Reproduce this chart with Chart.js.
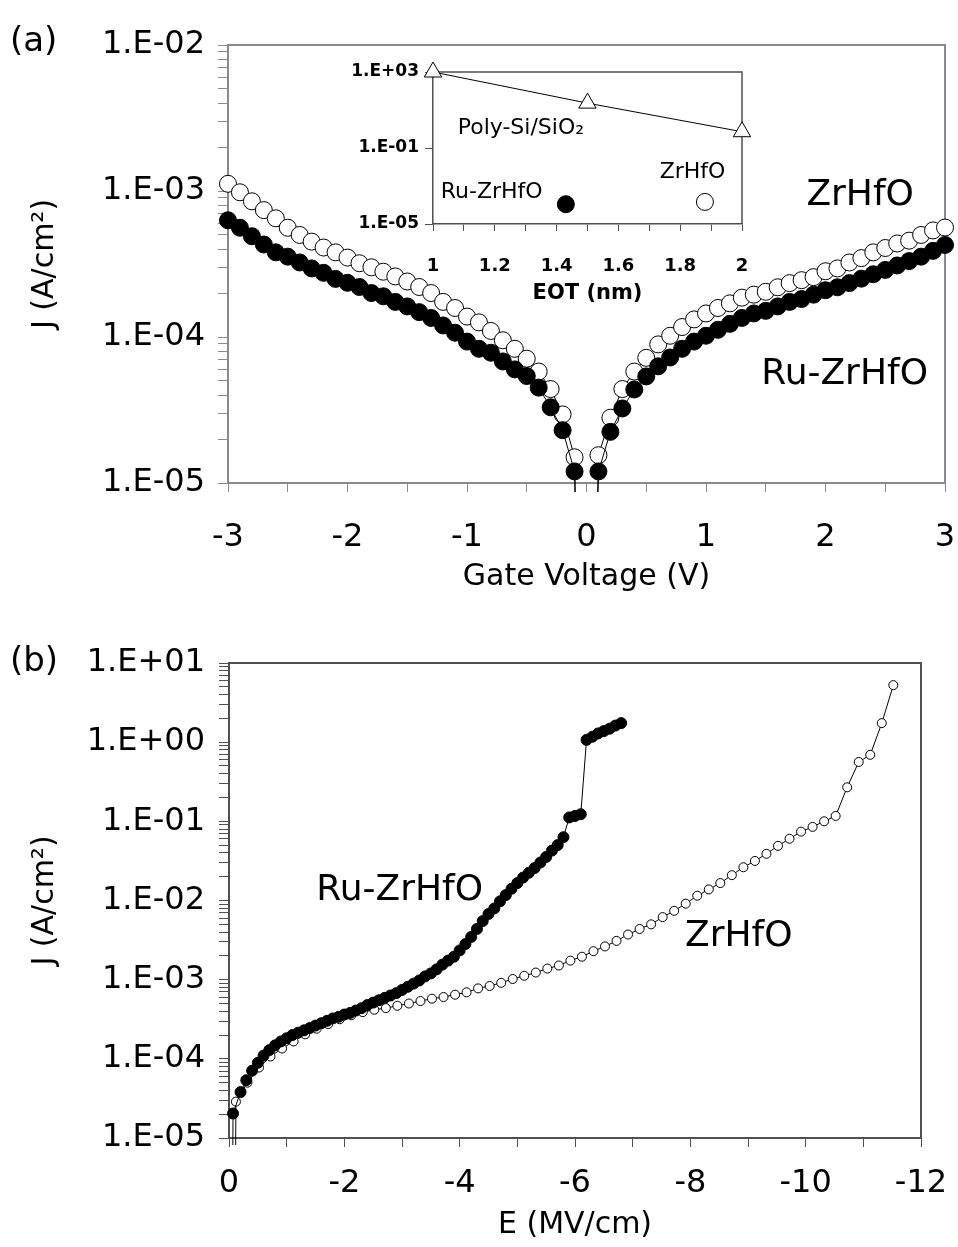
<!DOCTYPE html>
<html>
<head>
<meta charset="utf-8">
<script src="https://cdn.jsdelivr.net/npm/chart.js@4.4.1/dist/chart.umd.min.js"></script>
<style>
  body { margin: 0; background: #fff; }
  #wrap { position: relative; width: 958px; height: 1247px; background: #fff; }
  canvas { position: absolute; }
  .tag { position: absolute; font-family: 'DejaVu Sans', sans-serif; font-size: 34px; line-height: 1; color: #000; }
</style>
</head>
<body>
<div id="wrap">
  <canvas id="panelA" width="958" height="620" style="left:0;top:0"></canvas>
  <canvas id="inset" width="430" height="270" style="left:330px;top:50px"></canvas>
  <canvas id="panelB" width="958" height="627" style="left:0;top:620px"></canvas>
  <div class="tag" style="left:10px;top:22px">(a)</div>
  <div class="tag" style="left:10px;top:642px">(b)</div>
</div>
<script>
// (a) J-V, gate voltage sweep
const gateVoltage = [-3.0, -2.9, -2.8, -2.7, -2.6, -2.5, -2.4, -2.3, -2.2, -2.1,
  -2.0, -1.9, -1.8, -1.7, -1.6, -1.5, -1.4, -1.3, -1.2, -1.1,
  -1.0, -0.9, -0.8, -0.7, -0.6, -0.5, -0.4, -0.3, -0.2, -0.1,
  0,
  0.1, 0.2, 0.3, 0.4, 0.5, 0.6, 0.7, 0.8, 0.9, 1.0,
  1.1, 1.2, 1.3, 1.4, 1.5, 1.6, 1.7, 1.8, 1.9, 2.0,
  2.1, 2.2, 2.3, 2.4, 2.5, 2.6, 2.7, 2.8, 2.9, 3.0];
const jZrHfO = [1.12e-3, 9.8e-4, 8.5e-4, 7.4e-4, 6.5e-4, 5.6e-4, 5.0e-4, 4.5e-4, 4.1e-4, 3.8e-4,
  3.5e-4, 3.2e-4, 3.0e-4, 2.8e-4, 2.6e-4, 2.4e-4, 2.2e-4, 2.0e-4, 1.74e-4, 1.58e-4,
  1.38e-4, 1.26e-4, 1.10e-4, 9.5e-5, 8.3e-5, 7.1e-5, 5.8e-5, 4.4e-5, 2.95e-5, 1.5e-5,
  1e-9,
  1.55e-5, 2.8e-5, 4.4e-5, 5.8e-5, 7.2e-5, 8.9e-5, 1.02e-4, 1.17e-4, 1.32e-4, 1.45e-4,
  1.58e-4, 1.70e-4, 1.86e-4, 1.95e-4, 2.04e-4, 2.19e-4, 2.34e-4, 2.45e-4, 2.57e-4, 2.82e-4,
  2.95e-4, 3.24e-4, 3.47e-4, 3.80e-4, 4.07e-4, 4.37e-4, 4.57e-4, 5.0e-4, 5.37e-4, 5.62e-4];
const jRuZrHfO = [6.3e-4, 5.6e-4, 4.9e-4, 4.3e-4, 3.8e-4, 3.55e-4, 3.24e-4, 2.95e-4, 2.75e-4, 2.5e-4,
  2.35e-4, 2.2e-4, 2.0e-4, 1.9e-4, 1.74e-4, 1.62e-4, 1.48e-4, 1.35e-4, 1.2e-4, 1.07e-4,
  9.3e-5, 8.3e-5, 7.8e-5, 6.8e-5, 6.0e-5, 5.4e-5, 4.5e-5, 3.3e-5, 2.3e-5, 1.2e-5,
  1e-9,
  1.2e-5, 2.24e-5, 3.24e-5, 4.37e-5, 5.37e-5, 6.3e-5, 7.24e-5, 8.3e-5, 9.3e-5, 1.02e-4,
  1.12e-4, 1.23e-4, 1.35e-4, 1.45e-4, 1.51e-4, 1.62e-4, 1.74e-4, 1.82e-4, 1.95e-4, 2.09e-4,
  2.19e-4, 2.34e-4, 2.51e-4, 2.69e-4, 2.88e-4, 3.09e-4, 3.31e-4, 3.55e-4, 3.89e-4, 4.27e-4];

// inset: J vs EOT
const eotPoly = [1, 1.5, 2];
const jPoly = [1e3, 23, 0.72];
const eotRuInset = [1.43];
const jRuInset = [1.1e-4];
const eotZrInset = [1.88];
const jZrInset = [1.45e-4];

// (b) J-E
const fieldRu = [-0.05, -0.07, -0.2, -0.3, -0.4, -0.5, -0.6, -0.7, -0.8, -0.9,
  -1.0, -1.1, -1.2, -1.3, -1.4, -1.5, -1.6, -1.7, -1.8, -1.9,
  -2.0, -2.1, -2.2, -2.3, -2.4, -2.5, -2.6, -2.7, -2.8, -2.9,
  -3.0, -3.1, -3.2, -3.3, -3.4, -3.5, -3.6, -3.7, -3.8, -3.9,
  -4.0, -4.1, -4.2, -4.3, -4.4, -4.5, -4.6, -4.7, -4.8, -4.9,
  -5.0, -5.1, -5.2, -5.3, -5.4, -5.5, -5.6, -5.7, -5.8, -5.9,
  -6.0, -6.1, -6.2, -6.3, -6.4, -6.5, -6.6, -6.7, -6.8];
const jRuField = [1e-7, 2.04e-5, 3.80e-5, 5.37e-5, 7.08e-5, 8.91e-5, 1.10e-4, 1.29e-4, 1.48e-4, 1.66e-4,
  1.82e-4, 2.00e-4, 2.14e-4, 2.29e-4, 2.45e-4, 2.63e-4, 2.82e-4, 3.02e-4, 3.24e-4, 3.39e-4,
  3.63e-4, 3.80e-4, 4.07e-4, 4.37e-4, 4.79e-4, 5.13e-4, 5.50e-4, 5.89e-4, 6.31e-4, 6.76e-4,
  7.41e-4, 8.13e-4, 8.91e-4, 9.77e-4, 1.10e-3, 1.20e-3, 1.35e-3, 1.55e-3, 1.74e-3, 1.95e-3,
  2.34e-3, 2.82e-3, 3.47e-3, 4.37e-3, 5.50e-3, 6.76e-3, 7.94e-3, 9.77e-3, 1.17e-2, 1.41e-2,
  1.66e-2, 1.95e-2, 2.24e-2, 2.57e-2, 3.02e-2, 3.55e-2, 4.27e-2, 5.01e-2, 6.31e-2, 0.112,
  0.117, 0.123, 1.07, 1.17, 1.29, 1.38, 1.48, 1.62, 1.74];
const fieldZr = [-0.1, -0.12, -0.32, -0.52, -0.72, -0.92, -1.12, -1.32, -1.52, -1.72,
  -1.92, -2.12, -2.32, -2.52, -2.72, -2.92, -3.12, -3.32, -3.52, -3.72,
  -3.92, -4.12, -4.32, -4.52, -4.72, -4.92, -5.12, -5.32, -5.52, -5.72,
  -5.92, -6.12, -6.32, -6.52, -6.72, -6.92, -7.12, -7.32, -7.52, -7.72,
  -7.92, -8.12, -8.32, -8.52, -8.72, -8.92, -9.12, -9.32, -9.52, -9.72,
  -9.92, -10.12, -10.32, -10.52, -10.72, -10.92, -11.12, -11.32, -11.52];
const jZrField = [1e-7, 2.88e-5, 5.0e-5, 7.76e-5, 1.07e-4, 1.35e-4, 1.66e-4, 2.04e-4, 2.40e-4, 2.75e-4,
  3.16e-4, 3.55e-4, 3.89e-4, 4.17e-4, 4.37e-4, 4.68e-4, 5.0e-4, 5.37e-4, 5.75e-4, 6.03e-4,
  6.46e-4, 6.92e-4, 7.76e-4, 8.32e-4, 9.12e-4, 1.02e-3, 1.12e-3, 1.23e-3, 1.38e-3, 1.51e-3,
  1.74e-3, 1.95e-3, 2.29e-3, 2.63e-3, 3.09e-3, 3.72e-3, 4.37e-3, 5.0e-3, 6.17e-3, 7.41e-3,
  9.12e-3, 1.15e-2, 1.38e-2, 1.66e-2, 2.09e-2, 2.63e-2, 3.16e-2, 3.89e-2, 4.90e-2, 6.03e-2,
  7.41e-2, 8.51e-2, 0.100, 0.117, 0.269, 0.562, 0.692, 1.74, 5.25];

Chart.defaults.font.family = "'DejaVu Sans', sans-serif";
Chart.defaults.color = "#000";
Chart.defaults.animation = false;
Chart.defaults.plugins.legend.display = false;
Chart.defaults.plugins.tooltip.enabled = false;

const pts = (xs, ys) => xs.map((x, i) => ({ x, y: ys[i] }));

// 1.E-03 style labels, decades only
const logLabel = (v) => {
  const e = Math.round(Math.log10(v));
  if (Math.abs(v / Math.pow(10, e) - 1) > 1e-6) return "";
  return "1.E" + (e < 0 ? "-" : "+") + String(Math.abs(e)).padStart(2, "0");
};

// 1..9 x 10^e tick marks so the minor ticks show
const decadeTicks = (lo, hi) => {
  const t = [];
  for (let e = lo; e < hi; e++) {
    for (let m = 1; m < 10; m++) t.push({ value: m * Math.pow(10, e) });
  }
  t.push({ value: Math.pow(10, hi) });
  return t;
};

// no extra room for edge labels, chart area is set by layout padding
const noEdgePad = (s) => {
  s.paddingLeft = 0;
  s.paddingRight = 0;
  s.paddingTop = 0;
  s.paddingBottom = 0;
};

// top + right edge of the box
const frame = {
  id: "frame",
  beforeDatasetsDraw(chart, args, opts) {
    const { ctx, chartArea: a } = chart;
    ctx.save();
    ctx.strokeStyle = opts.color;
    ctx.lineWidth = opts.width;
    ctx.beginPath();
    ctx.moveTo(a.left, a.top);
    ctx.lineTo(a.right, a.top);
    ctx.lineTo(a.right, a.bottom);
    ctx.stroke();
    ctx.restore();
  },
};

// text placed at data coordinates
const notes = {
  id: "notes",
  afterDatasetsDraw(chart, args, opts) {
    const { ctx, scales } = chart;
    ctx.save();
    ctx.fillStyle = "#000";
    ctx.textBaseline = "middle";
    (opts.items || []).forEach((it) => {
      ctx.font = it.font;
      ctx.textAlign = it.align || "center";
      ctx.fillText(it.text, scales.x.getPixelForValue(it.x), scales.y.getPixelForValue(it.y));
    });
    ctx.restore();
  },
};

const series = (data, fill, r, clip) => ({
  data,
  clip,
  showLine: true,
  borderColor: "#000",
  borderWidth: 1,
  pointRadius: r,
  pointHoverRadius: r,
  pointBackgroundColor: fill,
  pointBorderColor: "#000",
  pointBorderWidth: 1,
});

const greyA = "#8a8a8a";
const greyB = "#505050";
const clipA = { left: 12, top: 12, right: 12, bottom: 9 };
const clipB = { left: 8, top: 8, right: 8, bottom: 7 };

new Chart(document.getElementById("panelA"), {
  type: "scatter",
  data: {
    datasets: [
      series(pts(gateVoltage, jRuZrHfO), "#000", 8.5, clipA),
      series(pts(gateVoltage, jZrHfO), "#fff", 8.5, clipA),
    ],
  },
  plugins: [frame, notes],
  options: {
    responsive: false,
    layout: { padding: { top: 45, right: 13, left: 0, bottom: 0 } },
    plugins: {
      frame: { color: greyA, width: 2 },
      notes: {
        items: [
          { text: "ZrHfO", x: 2.29, y: 9.3e-4, font: "36px 'DejaVu Sans'" },
          { text: "Ru-ZrHfO", x: 2.16, y: 5.5e-5, font: "36px 'DejaVu Sans'" },
        ],
      },
    },
    scales: {
      x: {
        type: "linear",
        min: -3,
        max: 3,
        ticks: {
          stepSize: 0.5,
          autoSkip: false,
          maxRotation: 0,
          padding: 26,
          font: { size: 32 },
          callback: (v) => (Math.abs(v - Math.round(v)) < 1e-9 ? String(Math.round(v)) : ""),
        },
        grid: { drawOnChartArea: false, tickLength: 9, color: greyA, tickColor: greyA },
        border: { color: greyA, width: 2 },
        title: { display: true, text: "Gate Voltage (V)", font: { size: 30 }, padding: { top: 0, bottom: 25 } },
        afterFit: (s) => { s.height = 137; noEdgePad(s); },
      },
      y: {
        type: "logarithmic",
        min: 1e-5,
        max: 1e-2,
        afterBuildTicks: (s) => { s.ticks = decadeTicks(-5, -2); },
        ticks: { autoSkip: false, padding: 13, font: { size: 32 }, callback: logLabel },
        grid: { drawOnChartArea: false, tickLength: 10, color: greyA, tickColor: greyA },
        border: { color: greyA, width: 2 },
        title: { display: true, text: "J (A/cm²)", font: { size: 30 }, padding: { top: 27, bottom: 0 } },
        afterFit: (s) => { s.width = 228; noEdgePad(s); },
      },
    },
  },
});

new Chart(document.getElementById("inset"), {
  type: "scatter",
  data: {
    datasets: [
      Object.assign(series(pts(eotPoly, jPoly), "#fff", 10, 14), { pointStyle: "triangle" }),
      Object.assign(series(pts(eotRuInset, jRuInset), "#000", 8.5, 14), { showLine: false }),
      Object.assign(series(pts(eotZrInset, jZrInset), "#fff", 8.5, 14), { showLine: false }),
    ],
  },
  plugins: [frame, notes],
  options: {
    responsive: false,
    layout: { padding: { top: 22, right: 18, left: 0, bottom: 0 } },
    plugins: {
      frame: { color: greyB, width: 1.5 },
      notes: {
        items: [
          { text: "Poly-Si/SiO₂", x: 1.08, y: 1.1, font: "22px 'DejaVu Sans'", align: "left" },
          { text: "Ru-ZrHfO", x: 1.19, y: 4.8e-4, font: "22px 'DejaVu Sans'" },
          { text: "ZrHfO", x: 1.84, y: 5.5e-3, font: "22px 'DejaVu Sans'" },
        ],
      },
    },
    scales: {
      x: {
        type: "linear",
        min: 1,
        max: 2,
        ticks: {
          stepSize: 0.1,
          autoSkip: false,
          maxRotation: 0,
          padding: 25,
          font: { size: 18, weight: "bold" },
          callback: (v) => {
            if (Math.abs(v * 5 - Math.round(v * 5)) > 1e-6) return "";
            return Math.abs(v - Math.round(v)) < 1e-6 ? String(Math.round(v)) : v.toFixed(1);
          },
        },
        grid: { drawOnChartArea: false, tickLength: 7, color: greyB, tickColor: greyB },
        border: { color: greyB, width: 1.5 },
        title: { display: true, text: "EOT (nm)", font: { size: 21, weight: "bold" }, padding: { top: 0, bottom: 14 } },
        afterFit: (s) => { s.height = 96; noEdgePad(s); },
      },
      y: {
        type: "logarithmic",
        min: 1e-5,
        max: 1e3,
        afterBuildTicks: (s) => { s.ticks = [1e-5, 1e-1, 1e3].map((value) => ({ value })); },
        ticks: { autoSkip: false, padding: 6, font: { size: 17, weight: "bold" }, callback: logLabel },
        grid: { drawOnChartArea: false, tickLength: 8, color: greyB, tickColor: greyB },
        border: { color: greyB, width: 1.5 },
        afterFit: (s) => { s.width = 103; noEdgePad(s); },
      },
    },
  },
});

new Chart(document.getElementById("panelB"), {
  type: "scatter",
  data: {
    datasets: [
      series(pts(fieldRu, jRuField), "#000", 5.5, clipB),
      series(pts(fieldZr, jZrField), "#fff", 4.5, clipB),
    ],
  },
  plugins: [frame, notes],
  options: {
    responsive: false,
    layout: { padding: { top: 43, right: 37, left: 0, bottom: 0 } },
    plugins: {
      frame: { color: greyB, width: 2 },
      notes: {
        items: [
          { text: "Ru-ZrHfO", x: -2.96, y: 1.35e-2, font: "36px 'DejaVu Sans'" },
          { text: "ZrHfO", x: -8.84, y: 3.47e-3, font: "36px 'DejaVu Sans'" },
        ],
      },
    },
    scales: {
      x: {
        type: "linear",
        min: -12,
        max: 0,
        reverse: true,
        ticks: {
          stepSize: 1,
          autoSkip: false,
          maxRotation: 0,
          padding: 17,
          font: { size: 32 },
          callback: (v) => {
            const n = Math.round(v);
            if (Math.abs(v - n) > 1e-9 || n % 2 !== 0) return "";
            return n === 0 ? "0" : String(n);
          },
        },
        grid: { drawOnChartArea: false, tickLength: 9, color: greyB, tickColor: greyB },
        border: { color: greyB, width: 2 },
        title: { display: true, text: "E (MV/cm)", font: { size: 30 }, padding: { top: 0, bottom: 4 } },
        afterFit: (s) => { s.height = 109; noEdgePad(s); },
      },
      y: {
        type: "logarithmic",
        min: 1e-5,
        max: 10,
        afterBuildTicks: (s) => { s.ticks = decadeTicks(-5, 1); },
        ticks: { autoSkip: false, padding: 14, font: { size: 32 }, callback: logLabel },
        grid: { drawOnChartArea: false, tickLength: 10, color: greyB, tickColor: greyB },
        border: { color: greyB, width: 2 },
        title: { display: true, text: "J (A/cm²)", font: { size: 30 }, padding: { top: 27, bottom: 0 } },
        afterFit: (s) => { s.width = 229; noEdgePad(s); },
      },
    },
  },
});
</script>
</body>
</html>
